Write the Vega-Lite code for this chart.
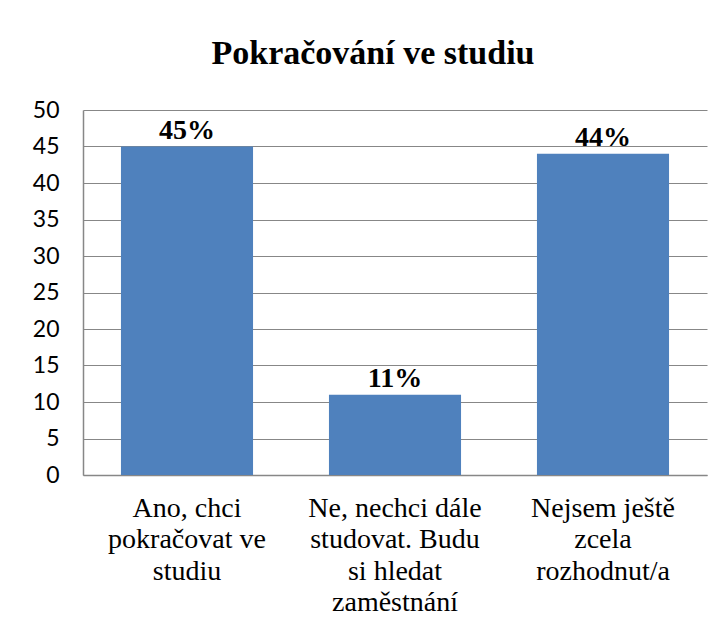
{
  "$schema": "https://vega.github.io/schema/vega-lite/v6.json",
  "autosize": "none",
  "width": 624,
  "height": 365,
  "padding": {"left": 83, "top": 110, "right": 19, "bottom": 167},
  "background": "white",
  "title": {
    "text": "Pokračování ve studiu",
    "font": "Liberation Serif",
    "fontSize": 34,
    "fontWeight": "bold",
    "color": "#000000",
    "anchor": "middle",
    "dx": -22,
    "offset": 28
  },
  "data": {
    "values": [
      {"odpoved": "Ano, chci|pokračovat ve|studiu", "hodnota": 45, "popis": "45%"},
      {"odpoved": "Ne, nechci dále|studovat. Budu|si hledat|zaměstnání", "hodnota": 11, "popis": "11%"},
      {"odpoved": "Nejsem ještě|zcela|rozhodnut/a", "hodnota": 44, "popis": "44%"}
    ]
  },
  "encoding": {
    "x": {
      "field": "odpoved",
      "type": "nominal",
      "sort": null,
      "scale": {"paddingInner": 0.365, "paddingOuter": 0.1825},
      "axis": {
        "title": null,
        "labelAngle": 0,
        "labelExpr": "split(datum.label, '|')",
        "labelFont": "Liberation Serif",
        "labelFontSize": 28,
        "labelLineHeight": 31.5,
        "labelColor": "#000000",
        "labelPadding": 19,
        "labelLimit": 0,
        "ticks": false,
        "domainColor": "#878787",
        "domainWidth": 1.5
      }
    },
    "y": {
      "field": "hodnota",
      "type": "quantitative",
      "scale": {"domain": [0, 50]},
      "axis": {
        "title": null,
        "values": [0, 5, 10, 15, 20, 25, 30, 35, 40, 45, 50],
        "labelFont": "Lato",
        "labelFontSize": 23,
        "labelColor": "#000000",
        "labelPadding": 24,
        "ticks": false,
        "grid": true,
        "gridColor": "#878787",
        "gridWidth": 1.2,
        "domainColor": "#878787",
        "domainWidth": 1.5
      }
    }
  },
  "layer": [
    {"mark": {"type": "bar", "color": "#4F81BD"}},
    {
      "mark": {
        "type": "text",
        "baseline": "alphabetic",
        "dy": -8,
        "font": "Liberation Serif",
        "fontSize": 28,
        "fontWeight": "bold",
        "color": "#000000"
      },
      "encoding": {"text": {"field": "popis"}}
    }
  ],
  "config": {
    "view": {"stroke": null},
    "axisX": {"labelFont": "Liberation Serif", "labelFontSize": 28},
    "axisY": {"labelFont": "Lato", "labelFontSize": 23}
  }
}
